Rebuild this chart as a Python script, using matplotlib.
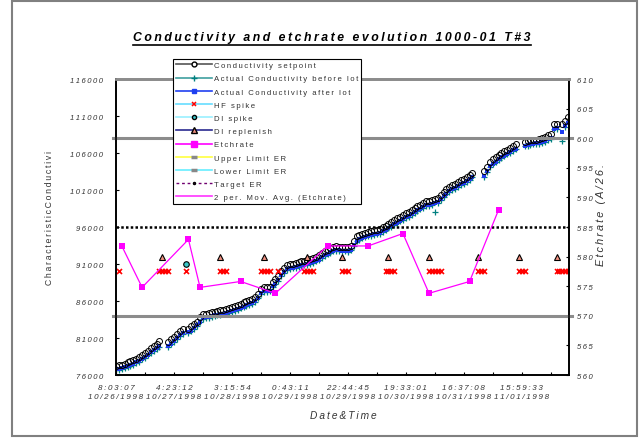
import numpy as np
import matplotlib
matplotlib.use("Agg")
import matplotlib.pyplot as plt
from matplotlib.lines import Line2D
from matplotlib.patches import Rectangle

plt.rcParams['font.family'] = ['Liberation Sans', 'DejaVu Sans']

nan = np.nan

# x axis is a category axis, one category per lot
x_labels = ["8:03:07\n10/26/1998", "4:23:12\n10/27/1998", "3:15:54\n10/28/1998",
            "0:43:11\n10/29/1998", "22:44:45\n10/29/1998", "19:33:01\n10/30/1998",
            "16:37:08\n10/31/1998", "15:59:33\n11/01/1998"]

setpoint = [
    77220, 77310, 77390, 77550, 77730, 77890, 78070, 78200, 78470, 78760,
    79030, 79310, 79600, 79890, 80230, 80540, nan, nan, 80490, 80820,
    81150, 81510, 81920, 82220, nan, 82270, 82570, 82860, 83210, 83780,
    84240, 84300, 84350, 84450, 84570, 84680, 84780, 84850, 84900, 85000,
    85150, 85340, 85470, 85640, 85800, 85970, 86110, 86240, 86570, 86990,
    87650, 87890, 87890, 87890, 88570, 88920, 89380, 90030, 90490, 90860,
    90940, 91020, 91100, 91210, 91340, 91450, 91550, 91690, 91850, 92010,
    92160, 92440, 92710, 92940, 93130, 93320, 93400, 93350, 93310, 93300,
    93300, 93490, 94110, 94720, 94920, 95080, 95240, 95380, 95490, 95590,
    95660, 95730, 95960, 96200, 96420, 96680, 96930, 97150, 97370, 97610,
    97840, 98070, 98300, 98550, 98810, 99040, 99270, 99490, 99570, 99650,
    99730, 99920, 100320, 100690, 101090, 101420, 101680, 101840, 102070, 102300,
    102530, 102740, 103060, 103360, nan, nan, nan, 103540, 104110, 104780,
    105130, 105410, 105700, 105970, 106220, 106470, 106700, 106930, 107160, nan,
    nan, 107550, 107640, 107720, 107770, 107820, 107880, 108030, 108180, 108420,
    108570, 109920, 109920, nan, 109920, 110320, 110860]

after_lot = [
    76750, 76800, 76900, 77050, 77200, 77350, 77500, 77700, 77900, 78200,
    78450, 78750, 79050, 79350, 79650, 79950, nan, nan, 79900, 80250,
    80600, 80950, 81350, 81700, nan, 81750, 82000, 82350, 82700, 83200,
    83700, 83800, 83850, 83950, 84050, 84150, 84250, 84300, 84400, 84500,
    84600, 84800, 84950, 85100, 85250, 85400, 85550, 85700, 86000, 86450,
    87050, 87300, 87350, 87400, 88000, 88350, 88800, 89450, 89950, 90350,
    90450, 90500, 90600, 90700, 90800, 90900, 91000, 91150, 91300, 91450,
    91600, 91900, 92150, 92400, 92600, 92800, 92850, 92850, 92800, 92800,
    92750, 92950, 93550, 94150, 94350, 94550, 94700, 94850, 94950, 95050,
    95100, 95200, 95400, 95650, 95900, 96100, 96400, 96600, 96850, 97050,
    97300, 97500, 97750, 98000, 98250, 98500, 98700, 98950, 99000, 99100,
    99200, 99350, 99750, 100150, 100500, 100850, 101100, 101300, 101500, 101750,
    101950, 102200, 102500, 102800, nan, nan, nan, 102950, 103550, 104200,
    104550, 104850, 105150, 105400, 105650, 105900, 106150, 106350, 106600, nan,
    nan, 107000, 107100, 107200, 107250, 107300, 107350, 107500, 107650, 107850,
    108000, 109300, 109400, nan, 108900, 109600, 110100]

before_lot = [
    76650, 76700, 76800, 76950, 77100, 77250, 77400, 77600, 77800, 78100,
    78350, 78650, 78950, 79250, 79550, 79850, nan, nan, 79800, 80150,
    80500, 80850, 81250, 81600, nan, 81650, 81900, 82250, 82600, 83100,
    83600, 83700, 83750, 83850, 83950, 84050, 84150, 84200, 84300, 84400,
    84500, 84700, 84850, 85000, 85150, 85300, 85450, 85600, 85900, 86350,
    86950, 87200, 87250, 87300, 87900, 88250, 88700, 89350, 89850, 90250,
    90350, 90400, 90500, 90600, 90700, 90800, 90900, 91050, 91200, 91350,
    91500, 91800, 92050, 92300, 92500, 92700, 92750, 92750, 92700, 92700,
    92650, 92850, 93450, 94050, 94250, 94450, 94600, 94750, 94850, 94950,
    95000, 95100, 95300, 95550, 95800, 96000, 96300, 96500, 96750, 96950,
    97200, 97400, 97650, 97900, 98150, 98400, 98600, 98850, 98900, 99000,
    98000, 99250, 99650, 100050, 100400, 100750, 101000, 101200, 101400, 101650,
    101850, 102100, 102400, 102700, nan, nan, nan, 102700, 103450, 104100,
    104450, 104750, 105050, 105300, 105550, 105800, 106050, 106250, 106500, nan,
    nan, 106900, 107000, 107100, 107150, 107200, 107250, 107400, 107550, 107750,
    107900, 109200, 109300, nan, 107600, 109500, 110000]

# bath events (plotted on the conductivity axis)
hf_spike_idx = [1, 15, 16, 17, 18, 24, 36, 37, 38, 50, 51, 52, 53, 56, 65, 66, 67, 68,
                78, 79, 80, 93, 94, 95, 96, 108, 109, 110, 111, 112, 125, 126, 127,
                139, 140, 141, 152, 153, 154, 155, 156]
hf_spike_level = 90000
di_spike_idx = [24]
di_spike_level = 91000
di_replenish_idx = [16, 36, 51, 66, 78, 94, 108, 125, 139, 152]
di_replenish_level = 92000

# etchrate measurements (right axis)
etch_idx = [2, 9, 25, 29, 43, 55, 73, 87, 99, 108, 122, 132]
etch_vals = [581.8, 574.8, 582.9, 574.8, 575.8, 573.8, 581.8, 581.8, 583.9, 573.8, 575.8, 587.9]
upper_er = 600
lower_er = 570
target_er = 585


def spaced(s):
    return '\n'.join('\u2009'.join(line) for line in s.split('\n'))


txt = '#333333'
fs = 5.5

fig = plt.figure(figsize=(6.44, 4.39), dpi=100)
fig.patch.set_facecolor('white')
fig.patches.append(Rectangle((12 / 644, 2 / 439), 625 / 644, 435 / 439, transform=fig.transFigure,
                             fill=False, edgecolor='#808080', linewidth=1.5))

ax = fig.add_axes([116 / 644, 1 - 376 / 439, 453 / 644, 296 / 439])
ax2 = ax.twinx()

x = np.arange(len(setpoint))
ax.plot(x, before_lot, linestyle='none', marker='+', ms=4, mew=0.9, color='#008080')
ax.plot(x, after_lot, linestyle='none', marker='s', ms=3, mew=0, color='#1f3cf0')
ax.plot(x, setpoint, linestyle='none', marker='o', ms=4.3, mew=0.7, mfc='none', mec='black')
ax.plot(hf_spike_idx, [hf_spike_level] * len(hf_spike_idx), linestyle='none',
        marker='x', ms=3.6, mew=1.2, color='red')
ax.plot(di_spike_idx, [di_spike_level] * len(di_spike_idx), linestyle='none',
        marker='o', ms=4, mew=0.8, mfc='#3cc8c8', mec='black')
ax.plot(di_replenish_idx, [di_replenish_level] * len(di_replenish_idx), linestyle='none',
        marker='^', ms=4.2, mew=0.8, mfc='#f09080', mec='black')

ax2.axhline(upper_er, xmin=-0.007, xmax=1.007, color='#8c8c8c', lw=2.2, clip_on=False)
ax2.axhline(lower_er, xmin=-0.007, xmax=1.007, color='#8c8c8c', lw=2.2, clip_on=False)
ax2.axhline(target_er, color='black', lw=1.8, linestyle=(0, (1.0, 0.9)))
ax2.plot(etch_idx, etch_vals, color='#ff00ff', lw=0.9, marker='s', ms=4.3, mew=0)

ax.set_xlim(0, 156.3)
ax.set_ylim(76000, 116000)
ax2.set_ylim(560, 610)

ax.set_xticks(np.arange(0, 157, 10))
ax.set_xticklabels([spaced(x_labels[k // 2]) if k % 2 == 0 else '' for k in range(16)])
left_ticks = np.arange(76000, 116001, 5000)
ax.set_yticks(left_ticks)
ax.set_yticklabels([spaced(str(v)) for v in left_ticks])
right_ticks = np.arange(560, 611, 5)
ax2.set_yticks(right_ticks)
ax2.set_yticklabels([spaced(str(v)) for v in right_ticks])

for a in (ax, ax2):
    a.tick_params(direction='in', length=2.5, width=0.8, colors='black', labelcolor=txt)
    for lab in a.get_yticklabels():
        lab.set_fontsize(fs)
        lab.set_fontstyle('italic')
    for s in ('left', 'right', 'bottom'):
        a.spines[s].set_linewidth(1.2)
    a.spines['top'].set_color('#8c8c8c')
    a.spines['top'].set_linewidth(2)
for lab in ax.get_xticklabels():
    lab.set_fontsize(5.75)
    lab.set_fontstyle('italic')
    lab.set_linespacing(1.4)
ax.tick_params(axis='y', pad=9)
ax.tick_params(axis='x', pad=6.5)
ax2.tick_params(axis='y', pad=6)

title = fig.text(332 / 644, 1 - 38 / 439, spaced('Conductivity and etchrate evolution 1000-01 T#3'),
                 ha='center', va='center', fontsize=8.8, fontweight='bold', fontstyle='italic')
fig.text(50 / 644, 1 - 218 / 439, spaced('CharacteristicConductivi'), rotation=90,
         ha='center', va='center', fontsize=6.2, color=txt)
fig.text(601 / 644, 1 - 215 / 439, spaced('Etchrate (A/26.'), rotation=90,
         ha='center', va='center', fontsize=7.8, fontstyle='italic', color=txt)
fig.text(343 / 644, 1 - 416 / 439, spaced('Date&Time'), ha='center', va='center',
         fontsize=7.3, fontstyle='italic', color=txt)

# legend built from proxy handles, as in the spreadsheet legend
handles = [
    Line2D([], [], color='#555555', lw=1.2, marker='o', ms=3.5, mfc='white', mec='black'),
    Line2D([], [], color='#40a0a0', lw=1.2, marker='+', ms=4, mec='#008080'),
    Line2D([], [], color='#2040f0', lw=1.2, marker='s', ms=2.3),
    Line2D([], [], color='#66ddff', lw=1.2, marker='x', ms=3.5, mec='red', mew=1.1),
    Line2D([], [], color='#99f0ff', lw=1.2, marker='o', ms=3, mfc='#3cc8c8', mec='black'),
    Line2D([], [], color='#2a2a90', lw=1.2, marker='^', ms=3.8, mfc='#f09080', mec='black'),
    Line2D([], [], color='#ff00ff', lw=1.2, marker='s', ms=4),
    Line2D([], [], color='#ffff40', lw=1.2, marker='_', ms=5, mew=2.5, mec='#888888'),
    Line2D([], [], color='#66eeff', lw=1.2, marker='_', ms=5, mew=2.5, mec='#888888'),
    Line2D([], [], color='#700070', lw=1.0, linestyle=(0, (2, 2)), marker='.', ms=3, mec='black'),
    Line2D([], [], color='#ff33ff', lw=1.2),
]
labels = ['Conductivity setpoint', 'Actual Conductivity before lot', 'Actual Conductivity after lot',
          'HF spike', 'DI spike', 'DI replenish', 'Etchrate', 'Upper Limit ER', 'Lower Limit ER',
          'Target ER', '2 per. Mov. Avg. (Etchrate)']
leg = fig.legend(handles, [spaced(l) for l in labels], loc='upper left',
                 bbox_to_anchor=(173 / 644, 1 - 60 / 439), borderaxespad=0,
                 prop={'size': 5.6}, handlelength=4.6, handletextpad=0.3,
                 labelspacing=0.74, borderpad=0.35, fancybox=False, framealpha=1,
                 edgecolor='black')
leg.get_frame().set_linewidth(0.8)
for t in leg.get_texts():
    t.set_color(txt)

# underline the title
fig.canvas.draw()
bb = title.get_window_extent(renderer=fig.canvas.get_renderer()).transformed(fig.transFigure.inverted())
fig.add_artist(Line2D([bb.x0, bb.x1], [bb.y0 - 0.004, bb.y0 - 0.004], color='black', lw=1.2,
                      transform=fig.transFigure))

fig.savefig('out.png', dpi=100)
